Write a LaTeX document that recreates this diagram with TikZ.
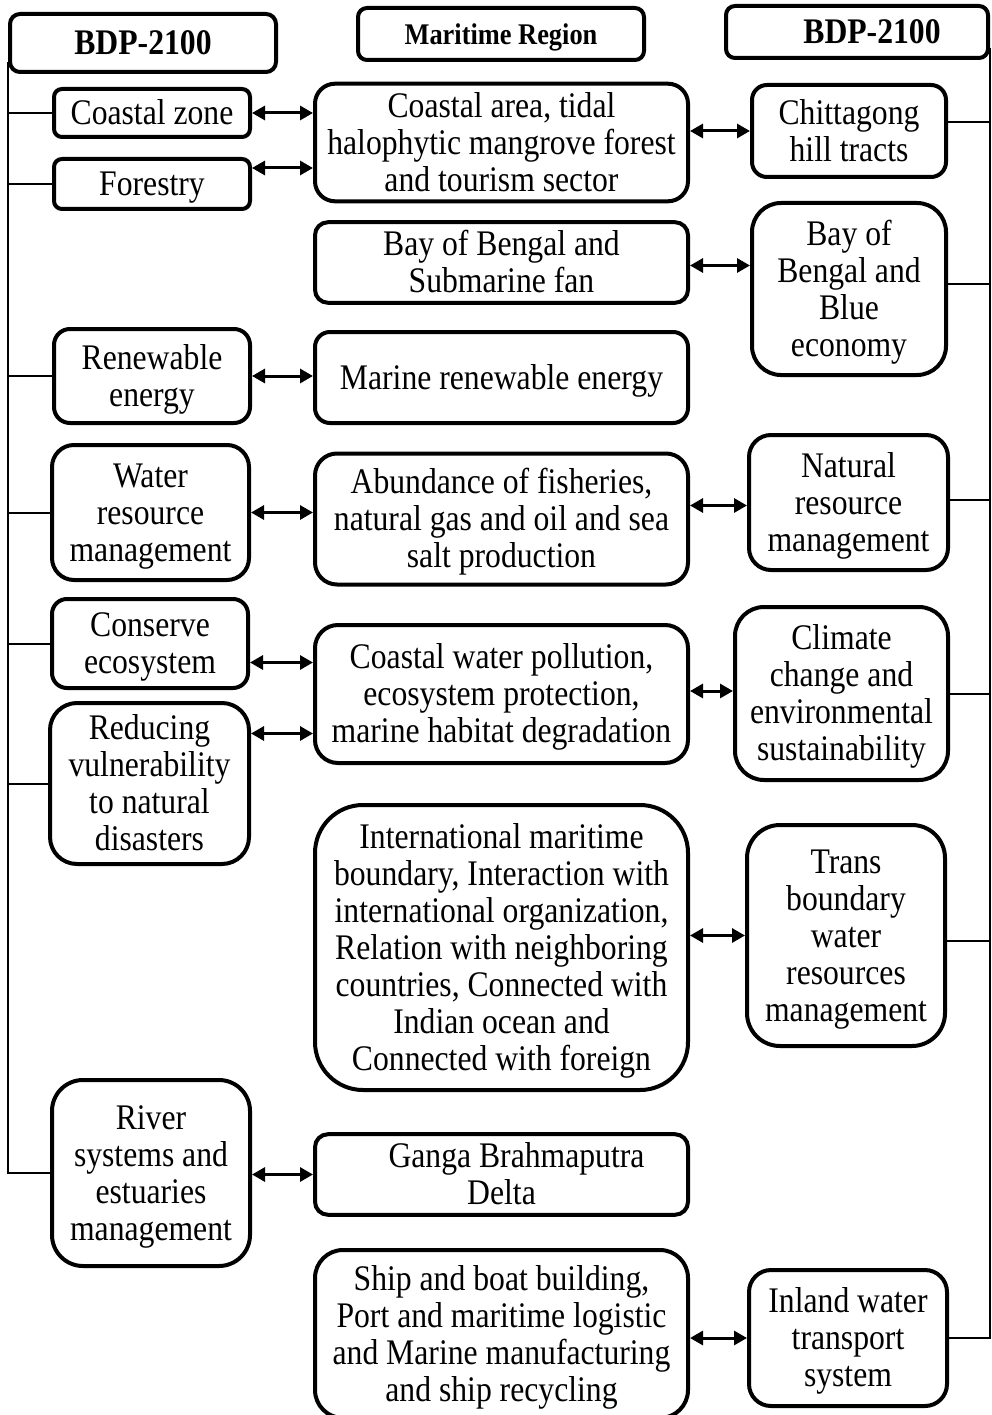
\documentclass[tikz,border=0pt]{standalone}
\usepackage{fontspec}
\setmainfont{Liberation Serif}[FakeStretch=0.88]
\usetikzlibrary{arrows.meta}
\tikzset{
  block/.style={rectangle, draw=black, line width=4pt, align=flush center,
    inner xsep=0pt, inner ysep=2pt, font=\fontsize{36pt}{37pt}\selectfont,
    execute at begin node={\rule{0pt}{.85\baselineskip}},
    execute at end node={\rule[-.22\baselineskip]{0pt}{.22\baselineskip}}},
  hdr/.style={block, font=\fontsize{36pt}{37pt}\selectfont\bfseries},
  dims/.style args={#1/#2/#3}{minimum width=#1pt, minimum height=#2pt,
    text width=#1pt, rounded corners=#3pt},
  arrow/.style={{Triangle[length=13pt,width=14pt]}-{Triangle[length=13pt,width=14pt]},
    line width=3pt},
  line/.style={line width=2pt}
}

\begin{document}
\begin{tikzpicture}[x=1pt, y=-1pt]
  \useasboundingbox (0,0) rectangle (991,1415);

  % Headers
  \node[hdr, dims=266/58/10] (h1) at (143,43) {BDP-2100};
  \node[hdr, dims=286/52/9, font=\fontsize{30pt}{32pt}\selectfont\bfseries] (h2) at (501,34) {Maritime Region};
  \node[hdr, dims=262/52/9] (h3) at (857,32) {\hspace*{30pt}BDP-2100};

  % Left column
  \node[block, dims=196/48/8] (coast) at (152,113) {Coastal zone};
  \node[block, dims=196/50/8] (forest) at (152,184) {Forestry};
  \node[block, dims=196/94/16] (renew) at (152,376) {Renewable\\energy};
  \node[block, dims=197/135/22] (water) at (150.5,512.5) {Water\\resource\\management};
  \node[block, dims=196/89/15] (conserve) at (150,643.5) {Conserve\\ecosystem};
  \node[block, dims=199/161/27] (reduce) at (149.5,783.5) {Reducing\\vulnerability\\to natural\\disasters};
  \node[block, dims=198/186/31] (river) at (151,1173) {River\\systems and\\estuaries\\management};

  % Maritime region column
  \node[block, dims=373/117/20] (coastA) at (501.5,142.5) {Coastal area, tidal\\halophytic mangrove forest\\and tourism sector};
  \node[block, dims=373/79/13] (bayS) at (501.5,262.5) {Bay of Bengal and\\Submarine fan};
  \node[block, dims=373/91/15] (marine) at (501.5,377.5) {Marine renewable energy};
  \node[block, dims=373/131/22] (abund) at (501.5,519) {Abundance of fisheries,\\natural gas and oil and sea\\salt production};
  \node[block, dims=373/138/23] (pollut) at (501.5,694) {Coastal water pollution,\\ecosystem protection,\\marine habitat degradation};
  \node[block, dims=373/285/48] (intl) at (501.5,947.5) {International maritime\\boundary, Interaction with\\international organization,\\Relation with neighboring\\countries, Connected with\\Indian ocean and\\Connected with foreign};
  \node[block, dims=373/79/13] (ganga) at (501.5,1174.5) {\hspace*{30pt}Ganga Brahmaputra\\Delta};
  \node[block, dims=373/168/28] (ship) at (501.5,1334) {Ship and boat building,\\Port and maritime logistic\\and Marine manufacturing\\and ship recycling};

  % Right column
  \node[block, dims=194/92/15] (chit) at (849,131) {Chittagong\\hill tracts};
  \node[block, dims=194/172/29] (bayB) at (849,289) {Bay of\\Bengal and\\Blue\\economy};
  \node[block, dims=199/135/22] (natural) at (848.5,502.5) {Natural\\resource\\management};
  \node[block, dims=213/173/29] (climate) at (841.5,693.5) {Climate\\change and\\environmental\\sustainability};
  \node[block, dims=198/221/33] (trans) at (846,935.5) {Trans\\boundary\\water\\resources\\management};
  \node[block, dims=198/136/22] (inland) at (848,1338) {Inland water\\transport\\system};

  % Trunks and branches
  \draw[line] ([yshift=12pt]h1.south west) |- (river.west);
  \foreach \n in {coast,forest,renew,water,conserve,reduce}
    \draw[line] (\n.west) -- (\n.west -| h1.south west);
  \draw[line] ([yshift=12pt]h3.south east) |- (inland.east);
  \foreach \n/\s in {chit/9,bayB/5,natural/3,climate/0,trans/-5}
    \draw[line] ([yshift=\s pt]\n.east) -- ([yshift=\s pt]\n.east -| h3.south east);

  % Links
  \draw[arrow] (coast.east) -- (coast.east -| coastA.west);
  \draw[arrow] ([yshift=16pt]forest.east) -- ([yshift=16pt]forest.east -| coastA.west);
  \draw[arrow] (coastA.east |- chit.west) -- (chit.west);
  \draw[arrow] ([yshift=-3pt]bayS.east) -- ([yshift=-3pt]bayS.east -| bayB.west);
  \draw[arrow] (renew.east) -- (renew.east -| marine.west);
  \draw[arrow] (water.east) -- (water.east -| abund.west);
  \draw[arrow] ([yshift=-3pt]natural.west -| abund.east) -- ([yshift=-3pt]natural.west);
  \draw[arrow] ([yshift=-19pt]conserve.east) -- ([yshift=-19pt]conserve.east -| pollut.west);
  \draw[arrow] ([yshift=50pt]reduce.east) -- ([yshift=50pt]reduce.east -| pollut.west);
  \draw[arrow] ([yshift=3pt]pollut.east) -- ([yshift=3pt]pollut.east -| climate.west);
  \draw[arrow] (intl.east |- trans.west) -- (trans.west);
  \draw[arrow] (river.east |- ganga.west) -- (ganga.west);
  \draw[arrow] (ship.east |- inland.west) -- (inland.west);
\end{tikzpicture}
\end{document}
